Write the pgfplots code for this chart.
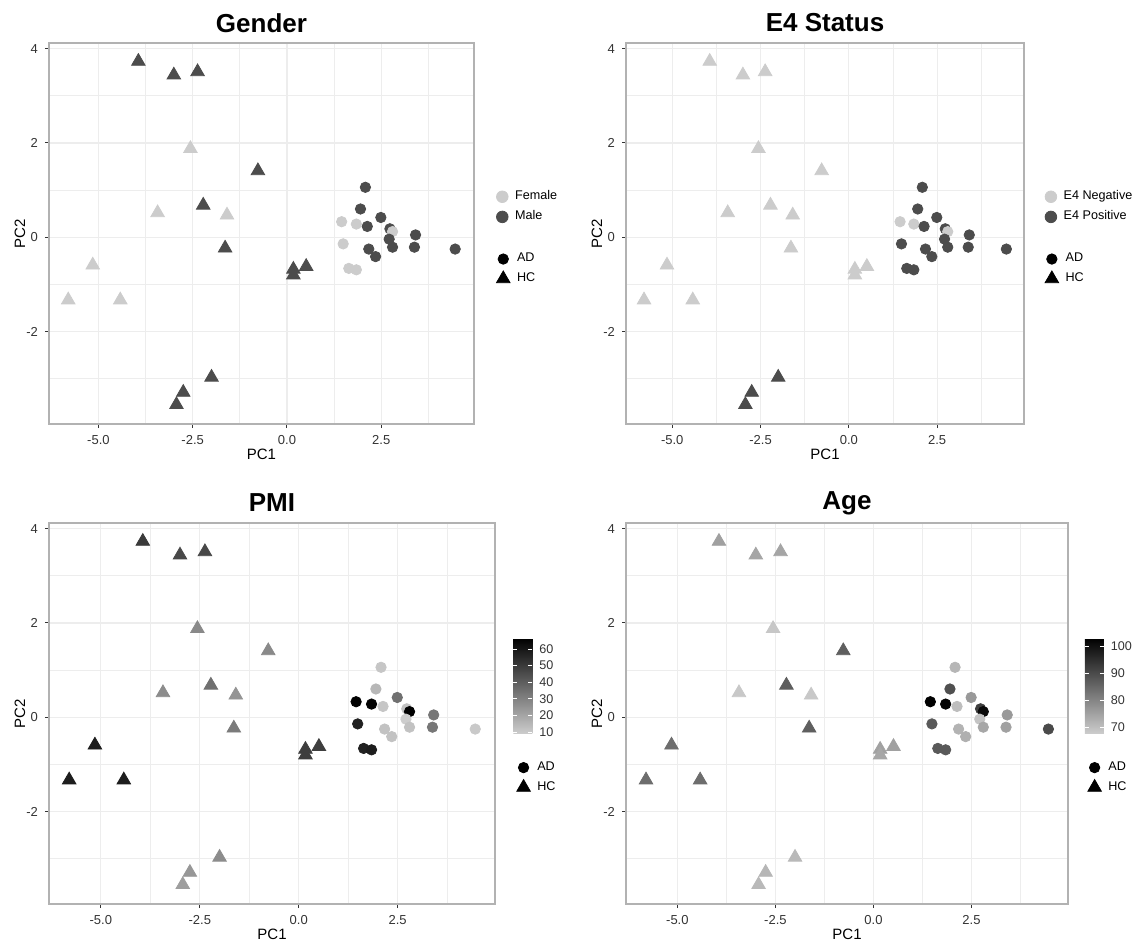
\documentclass[border=0pt]{standalone}
\usepackage{pgfplots}
\pgfplotsset{compat=1.18}
\usepackage{pgfplotstable}
\usepackage{fontspec}
\setmainfont{Liberation Sans}

\definecolor{light}{gray}{0.80}
\definecolor{dark}{gray}{0.30}
\definecolor{gridc}{gray}{0.93}
\definecolor{framec}{gray}{0.70}

% HC samples (triangles): PC1 PC2 gender(0=F,1=M) e4(0=neg,1=pos) PMI age
\pgfplotstableread{
x y gen e4 pmi age
-3.94 3.73 1 0 50 75.3
-3.00 3.44 1 0 46 74.4
-2.37 3.51 1 0 46 74.4
-2.56 1.88 0 0 28 68.6
-0.77 1.41 1 0 28 86.4
-2.22 0.68 1 0 35 86.6
-3.43 0.52 0 0 27 68.3
-1.59 0.47 0 0 25 68.3
-1.64 -0.23 1 0 32 86.4
-5.15 -0.59 0 0 58 84
-5.80 -1.33 0 0 58 84
-4.42 -1.33 0 0 58 84
0.17 -0.68 1 0 49 75
0.51 -0.62 1 0 49 75
0.17 -0.80 1 0 49 74
-2.00 -2.97 1 1 27 71
-2.75 -3.29 1 1 24 71.5
-2.93 -3.55 1 1 22 71
}\hc

% AD samples (circles)
\pgfplotstableread{
x y gen e4 pmi age
2.08 1.06 1 1 11 71.5
1.95 0.60 1 1 15 89
2.49 0.42 1 1 35 76.5
1.45 0.33 0 0 66 103
1.84 0.28 0 0 65 102
2.13 0.23 1 1 11 70
2.73 0.18 1 1 12 92
2.80 0.12 0 0 66.6 101
3.41 0.05 1 1 33 76.5
2.71 -0.04 1 1 9 69
1.49 -0.14 0 1 57 87.5
2.80 -0.21 1 1 12 74
3.38 -0.21 1 1 33 75
2.17 -0.25 1 1 12 72
4.46 -0.25 1 1 10 90
2.35 -0.41 1 1 12 72.5
1.64 -0.66 0 1 57 87.5
1.84 -0.69 0 1 58 87.5
}\ad

\pgfplotsset{
  pca/.style={
    scale only axis, anchor=north west, height=190.5pt,
    xmin=-6.31, xmax=4.96, ymin=-3.96, ymax=4.12,
    xtick={-5,-2.5,0,2.5}, xticklabels={-5.0,-2.5,0.0,2.5},
    ytick={-2,0,2,4}, yticklabels={-2,0,2,4},
    minor xtick={-3.75,-1.25,1.25,3.75}, minor ytick={-3,-1,1,3},
    grid=both,
    major grid style={gridc, line width=0.55pt},
    minor grid style={gridc, line width=0.35pt},
    tick pos=left, tick align=outside,
    major tick length=2pt, minor tick length=0pt,
    tick style={black!80, line width=0.5pt},
    axis line style={framec, line width=0.6pt},
    ticklabel style={font=\fontsize{6.5}{7}\selectfont, text=black!80},
    every axis x label/.style={at={(axis description cs:0.5,0)}, yshift=-15pt, anchor=center},
    every axis y label/.style={at={(axis description cs:0,0.5)}, xshift=-14.5pt, rotate=90, anchor=center},
    label style={font=\fontsize{7.5}{9}\selectfont},
    xlabel=PC1, ylabel=PC2,
    every axis title/.style={at={(axis description cs:0.5,1)}, yshift=10pt, anchor=center,
      font=\bfseries\fontsize{13}{15}\selectfont},
    legend style={draw=none, fill=none, inner sep=0pt, row sep=0pt, column sep=1.5pt,
      font=\fontsize{6.3}{7.5}\selectfont, anchor=west},
    legend cell align=left,
    legend image code/.code={\draw[mark repeat=2,mark phase=2,#1]
      plot coordinates {(0pt,0pt) (4.5pt,0pt) (9pt,0pt)};},
  },
  hc/.style={only marks, mark=triangle*, mark size=3.9pt},
  adm/.style={only marks, mark=*, mark size=2.6pt},
  keydot/.style={only marks, mark=*, mark size=2.9pt},
  twotone/.style={scatter, scatter src=explicit symbolic,
    scatter/classes={0={draw=light, fill=light}, 1={draw=dark, fill=dark}}},
  ramp/.style={scatter, scatter src=explicit,
    scatter/use mapped color={draw=mapped color, fill=mapped color}},
  greyramp/.style={colormap={gr}{rgb255=(205,205,205) rgb255=(0,0,0)}},
  cbar/.style={colorbar, colorbar style={
    at={(#1,0.698)}, anchor=north west, width=9.5pt, height=47.85pt,
    tick align=inside, ytick pos=both, yticklabel pos=right,
    major tick length=2pt, tick style={white, line width=0.5pt},
    axis line style={draw=none},
    yticklabel style={font=\fontsize{6.3}{7}\selectfont, text=black!80,
      /pgf/number format/assume math mode=true}}},
  shapes/.style={hide axis, scale only axis, anchor=north west, height=190.5pt,
    xmin=0, xmax=1, ymin=0, ymax=1,
    legend style={draw=none, fill=none, inner sep=0pt, row sep=0pt, column sep=1.5pt,
      font=\fontsize{6.3}{7.5}\selectfont, anchor=west},
    legend cell align=left,
    legend image code/.code={\draw[mark repeat=2,mark phase=2,#1]
      plot coordinates {(0pt,0pt) (4.5pt,0pt) (9pt,0pt)};}},
}

\begin{document}
\begin{tikzpicture}
\useasboundingbox (0,0) rectangle (571.5pt,-472pt);

% Gender
\begin{axis}[pca, at={(24.5pt,-21.5pt)}, width=212.5pt, title={Gender},
  legend style={at={(1.052,0.570)}}]
\addplot[hc, twotone, forget plot] table[x=x, y=y, meta=gen] {\hc};
\addplot[adm, twotone, forget plot] table[x=x, y=y, meta=gen] {\ad};
\addlegendimage{keydot, light}\addlegendentry{Female}
\addlegendimage{keydot, dark}\addlegendentry{Male}
\end{axis}
\begin{axis}[shapes, at={(24.5pt,-21.5pt)}, width=212.5pt, legend style={at={(1.052,0.407)}}]
\addlegendimage{adm, black}\addlegendentry{AD}
\addlegendimage{hc, black}\addlegendentry{HC}
\end{axis}

% E4 status
\begin{axis}[pca, at={(313pt,-21.5pt)}, width=199pt, title={E4 Status},
  legend style={at={(1.052,0.570)}}]
\addplot[hc, twotone, forget plot] table[x=x, y=y, meta=e4] {\hc};
\addplot[adm, twotone, forget plot] table[x=x, y=y, meta=e4] {\ad};
\addlegendimage{keydot, light}\addlegendentry{E4 Negative}
\addlegendimage{keydot, dark}\addlegendentry{E4 Positive}
\end{axis}
\begin{axis}[shapes, at={(313pt,-21.5pt)}, width=199pt, legend style={at={(1.052,0.407)}}]
\addlegendimage{adm, black}\addlegendentry{AD}
\addlegendimage{hc, black}\addlegendentry{HC}
\end{axis}

% PMI
\begin{axis}[pca, at={(24.5pt,-261.5pt)}, width=223pt, title={PMI},
  greyramp, point meta min=9, point meta max=66.6, cbar=1.041,
  colorbar style={ytick={10,20,...,60}}]
\addplot[hc, ramp] table[x=x, y=y, meta=pmi] {\hc};
\addplot[adm, ramp] table[x=x, y=y, meta=pmi] {\ad};
\end{axis}
\begin{axis}[shapes, at={(24.5pt,-261.5pt)}, width=223pt, legend style={at={(1.048,0.332)}}]
\addlegendimage{adm, black}\addlegendentry{AD}
\addlegendimage{hc, black}\addlegendentry{HC}
\end{axis}

% Age
\begin{axis}[pca, at={(313pt,-261.5pt)}, width=221pt, title={Age},
  greyramp, point meta min=67.5, point meta max=103, cbar=1.038,
  colorbar style={ytick={70,80,90,100}}]
\addplot[hc, ramp] table[x=x, y=y, meta=age] {\hc};
\addplot[adm, ramp] table[x=x, y=y, meta=age] {\ad};
\end{axis}
\begin{axis}[shapes, at={(313pt,-261.5pt)}, width=221pt, legend style={at={(1.044,0.332)}}]
\addlegendimage{adm, black}\addlegendentry{AD}
\addlegendimage{hc, black}\addlegendentry{HC}
\end{axis}
\end{tikzpicture}
\end{document}
